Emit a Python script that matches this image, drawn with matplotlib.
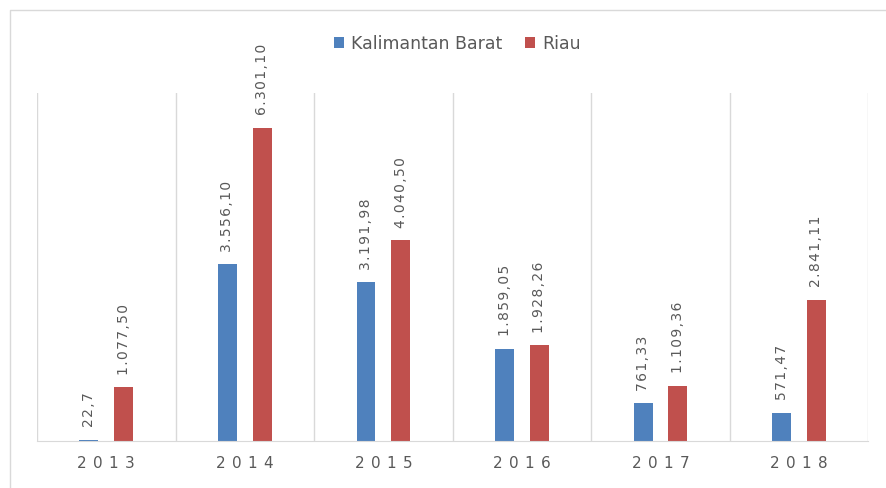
import matplotlib.pyplot as plt
import numpy as np

plt.rcParams['font.family'] = ['DejaVu Sans']

# data
years = ['2013', '2014', '2015', '2016', '2017', '2018']
kalbar = [22.7, 3556.10, 3191.98, 1859.05, 761.33, 571.47]
riau = [1077.50, 6301.10, 4040.50, 1928.26, 1109.36, 2841.11]
kalbar_labels = ['22,7', '3.556,10', '3.191,98', '1.859,05', '761,33', '571,47']
riau_labels = ['1.077,50', '6.301,10', '4.040,50', '1.928,26', '1.109,36', '2.841,11']

blue = '#4F81BD'
red = '#C0504D'
text_gray = '#595959'
hair = '\u200a'

fig = plt.figure(figsize=(8.86, 4.88), dpi=100)
ax = fig.add_axes([0.0418, 0.0963, 0.938, 0.7131])

x = np.arange(len(years))
w = 0.137
off = 0.125
b1 = ax.bar(x - off, kalbar, w, color=blue, label='Kalimantan Barat')
b2 = ax.bar(x + off, riau, w, color=red, label='Riau')

# rotated value labels above each bar (letter-spaced like the original)
for bars, labels in ((b1, kalbar_labels), (b2, riau_labels)):
    for bar, lab in zip(bars, labels):
        ax.annotate(hair.join(lab), (bar.get_x() + bar.get_width() / 2, bar.get_height()),
                    xytext=(0, 9), textcoords='offset points', rotation=90,
                    ha='center', va='bottom', fontsize=10, color=text_gray)

ax.set_xlim(-0.5, len(years) - 0.5)
ax.set_ylim(0, 7000)
ax.set_yticks([])

# vertical separators between categories
for s in np.arange(-0.5, len(years), 1.0):
    ax.axvline(s, color='#D9D9D9', lw=1, zorder=0)

ax.set_xticks(x)
ax.set_xticklabels([(' ' + hair).join(y) for y in years], fontsize=11, color=text_gray)
ax.tick_params(axis='x', length=0, pad=11)
for side in ('top', 'right', 'left'):
    ax.spines[side].set_visible(False)
ax.spines['bottom'].set_color('#D9D9D9')

fig.legend(loc='center', bbox_to_anchor=(0.516, 0.91), ncol=2, frameon=False,
           fontsize=12.5, handlelength=0.6, handleheight=0.6, handletextpad=0.4,
           columnspacing=1.3, labelcolor=text_gray)

# thin frame lines at the top and left edge, as in the screenshot
fig.add_artist(plt.Line2D([0.0113, 0.0113, 1.0], [0, 0.9795, 0.9795],
                          transform=fig.transFigure, color='#D9D9D9', lw=1))

fig.savefig('out.png', dpi=100)
